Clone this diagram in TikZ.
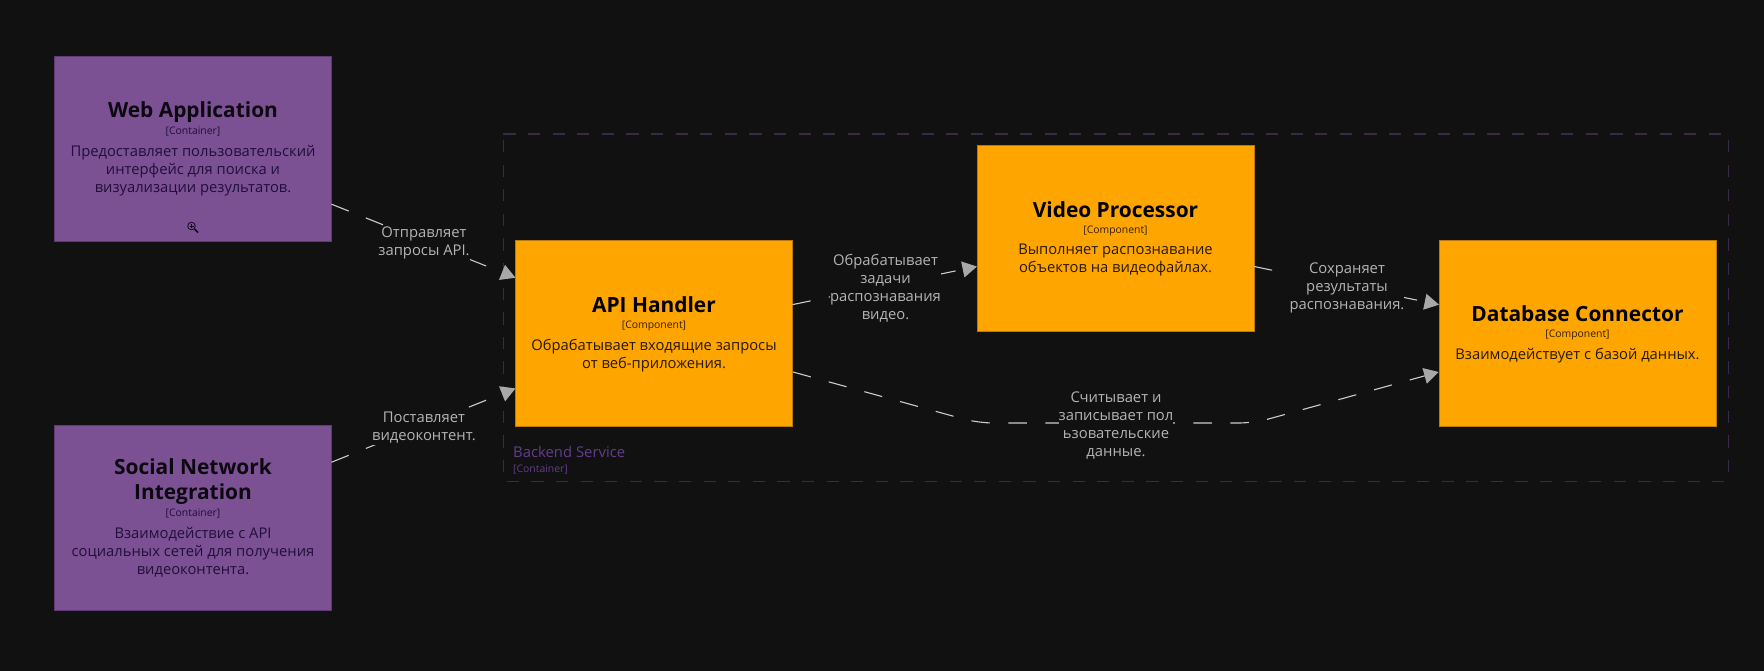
\documentclass[tikz,border=0pt]{standalone}
\usepackage{fontspec}
\setmainfont{Open Sans}
\usetikzlibrary{arrows.meta}

\definecolor{pagebg}{HTML}{111111}
\definecolor{contfill}{HTML}{7B5194}
\definecolor{contline}{HTML}{5F3B76}
\definecolor{contdesc}{HTML}{220E38}
\definecolor{compfill}{HTML}{FFA500}
\definecolor{compline}{HTML}{B9790B}
\definecolor{edgeline}{HTML}{CCCCCC}
\definecolor{edgetip}{HTML}{A8A8A8}
\definecolor{edgetext}{HTML}{B4B4B4}
\definecolor{boundline}{HTML}{3A2A48}
\definecolor{boundtext}{HTML}{643C8C}

\tikzset{
  contbox/.style={draw=contline, fill=contfill, minimum width=277pt, minimum height=185.5pt, inner sep=0pt, outer sep=0pt},
  compbox/.style={draw=compline, fill=compfill, minimum width=277pt, minimum height=185.5pt, inner sep=0pt, outer sep=0pt},
  titletext/.style={font=\fontsize{20.9}{25}\selectfont\bfseries, align=center, inner sep=0pt},
  techtext/.style={font=\fontsize{10.4}{12}\selectfont, inner sep=0pt},
  desctext/.style={font=\fontsize{14.75}{18}\selectfont, align=center, inner sep=0pt},
  edgelabel/.style={font=\fontsize{14.8}{18}\selectfont, align=center, text=edgetext, fill=pagebg, inner xsep=0pt, inner ysep=1.5pt},
  rel/.style={draw=edgeline, line width=1.1pt, dash pattern=on 18.5pt off 18.5pt,
    -{Triangle[length=14.5pt,width=16pt,color=edgetip]}},
  boundedge/.style={boundline, line width=1.2pt, dash pattern=on 12.3pt off 12.3pt}
}

\begin{document}
\begin{tikzpicture}[x=1pt,y=-1pt]
\useasboundingbox (0,0) rectangle (1764,671);
\fill[pagebg] (0,0) rectangle (1764,671);

% Boundary
\draw[boundedge] (503.3,134) -- (1728,134);
\draw[boundedge] (503.7,140) -- (503.7,481);
\draw[boundedge] (1728.3,140) -- (1728.3,481);
\draw[boundedge] (506.7,481.7) -- (1728,481.7);
\node[anchor=west, text=boundtext, font=\fontsize{14.85}{18}\selectfont, inner sep=0pt] (boundname) at (513,452) {Backend Service};
\node[anchor=west, text=boundtext, techtext] (boundtech) at (513,470) {[Container]};

% Containers
\node[contbox] (web) at (193,148.9) {};
\node[contbox] (social) at (193,517.7) {};

% Components
\node[compbox] (api) at (654,333) {};
\node[compbox] (video) at (1115.5,238) {};
\node[compbox] (db) at (1577.5,333) {};

% Container text
\node[titletext, text=black!90!contfill] (webtitle) at (193,112) {Web Application};
\node[techtext, text=contdesc] (webtech) at (193,132) {[Container]};
\node[desctext, text=contdesc] (webdesc) at (193,170.5) {Предоставляет пользовательский\\интерфейс для поиска и\\визуализации результатов.};

\node[titletext, text=black!90!contfill] (socialtitle) at (193,481.5) {Social Network\\Integration};
\node[techtext, text=contdesc] (socialtech) at (193,514) {[Container]};
\node[desctext, text=contdesc] (socialdesc) at (193,552) {Взаимодействие с API\\социальных сетей для получения\\видеоконтента.};

% Zoom icon
\draw[black!85!contfill, line width=0.8pt] (191.5,226) circle (3.8);
\draw[black!85!contfill, line width=0.6pt] (189.5,226) -- (193.5,226) (191.5,224) -- (191.5,228);
\draw[black!85!contfill, line width=1.5pt] (194.5,229) -- (198,232.5);

% Component text
\node[titletext, text=black] (apititle) at (654,304.5) {API Handler};
\node[techtext, text=black!80!compfill] (apitech) at (654,326) {[Component]};
\node[desctext, text=black!85!compfill] (apidesc) at (654,355.5) {Обрабатывает входящие запросы\\от веб-приложения.};

\node[titletext, text=black] (videotitle) at (1115.5,210) {Video Processor};
\node[techtext, text=black!80!compfill] (videotech) at (1115.5,231) {[Component]};
\node[desctext, text=black!85!compfill] (videodesc) at (1115.5,260.5) {Выполняет распознавание\\объектов на видеофайлах.};

\node[titletext, text=black] (dbtitle) at (1577.5,314) {Database Connector};
\node[techtext, text=black!80!compfill] (dbtech) at (1577.5,335) {[Component]};
\node[desctext, text=black!85!compfill] (dbdesc) at (1577.5,355.5) {Взаимодействует с базой данных.};

% Relations
\coordinate (apiout) at (793,372);
\coordinate (bendleft) at (978,423);
\coordinate (bendright) at (1254,423);
\coordinate (dbin) at (1438.6,372);
\draw[rel] (web) -- (api);
\draw[rel] (social) -- (api);
\draw[rel] (api) -- (video);
\draw[rel] (video) -- (db);
\draw[rel, rounded corners=15pt] (apiout) -- (bendleft) -- (bendright) -- (dbin);

% Relation labels
\node[edgelabel] (weblabel) at (424,243.3) {Отправляет\\запросы API.};
\node[edgelabel] (sociallabel) at (424,428) {Поставляет\\видеоконтент.};
\node[edgelabel] (apilabel) at (885.5,288) {Обрабатывает\\задачи\\распознавания\\видео.};
\node[edgelabel] (videolabel) at (1347,287.7) {Сохраняет\\результаты\\распознавания.};
\node[edgelabel] (dblabel) at (1116,425.2) {Считывает и\\записывает пол\\ьзовательские\\данные.};

\end{tikzpicture}
\end{document}
